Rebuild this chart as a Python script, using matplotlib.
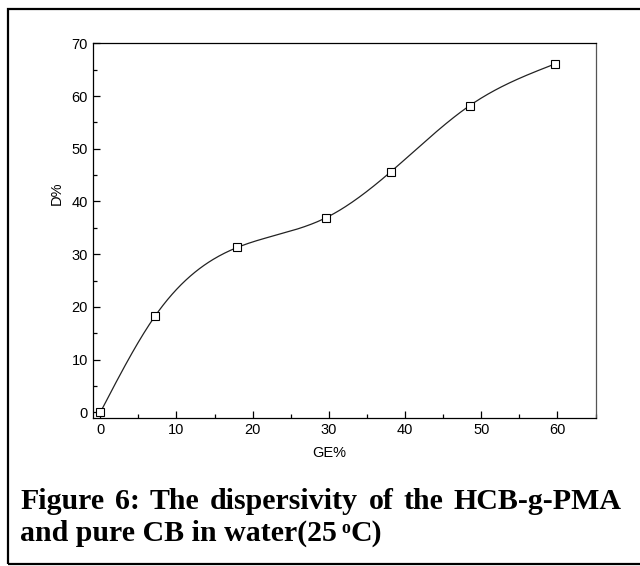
import matplotlib
matplotlib.use('Agg')
import matplotlib.pyplot as plt
import numpy as np
from matplotlib.patches import Rectangle
from matplotlib.ticker import MultipleLocator

# -------------------------- data --------------------------
ge = [0.0, 7.2, 18.0, 29.6, 38.1, 48.5, 59.7]
d = [0.0, 18.3, 31.3, 36.9, 45.6, 58.2, 66.1]

caption_line1 = ['Figure', '6:', 'The', 'dispersivity', 'of', 'the', 'HCB-g-PMA']
caption_line2 = ['and pure CB in water(25', 'o', 'C)']


def natural_spline(x, y, n=400):
    """Natural cubic spline through the points, for the smooth connecting line."""
    x = np.asarray(x, float)
    y = np.asarray(y, float)
    k = len(x)
    h = np.diff(x)
    A = np.zeros((k, k))
    b = np.zeros(k)
    A[0, 0] = A[-1, -1] = 1
    for i in range(1, k - 1):
        A[i, i - 1] = h[i - 1]
        A[i, i] = 2 * (h[i - 1] + h[i])
        A[i, i + 1] = h[i]
        b[i] = 6 * ((y[i + 1] - y[i]) / h[i] - (y[i] - y[i - 1]) / h[i - 1])
    m = np.linalg.solve(A, b)
    xs = np.linspace(x[0], x[-1], n)
    idx = np.clip(np.searchsorted(x, xs) - 1, 0, k - 2)
    t0 = xs - x[idx]
    t1 = x[idx + 1] - xs
    hh = h[idx]
    ys = (m[idx] * t1**3 / (6 * hh) + m[idx + 1] * t0**3 / (6 * hh)
          + (y[idx] / hh - m[idx] * hh / 6) * t1
          + (y[idx + 1] / hh - m[idx + 1] * hh / 6) * t0)
    return xs, ys


plt.rcParams['font.family'] = ['Liberation Sans', 'DejaVu Sans']

W, H = 640, 566
fig = plt.figure(figsize=(W / 100, H / 100), dpi=100)
ax = fig.add_axes([0.1448, 0.262, 0.9305 - 0.1448, 0.9235 - 0.262])

xs, ys = natural_spline(ge, d)
ax.plot(xs, ys, color='#222222', lw=0.9, zorder=2)
ax.plot(ge, d, ls='none', marker='s', ms=5.6, mfc='white', mec='black', mew=0.8, zorder=3)

ax.set_xlim(-1, 65)
ax.set_ylim(-1, 70)
ax.xaxis.set_major_locator(MultipleLocator(10))
ax.xaxis.set_minor_locator(MultipleLocator(5))
ax.yaxis.set_major_locator(MultipleLocator(10))
ax.yaxis.set_minor_locator(MultipleLocator(5))
ax.tick_params(which='major', direction='in', length=5, width=0.9, labelsize=10.5, pad=3.5)
ax.tick_params(which='minor', direction='in', length=2.6, width=0.9)
ax.tick_params(top=False, right=False)
for s in ax.spines.values():
    s.set_linewidth(0.9)
ax.spines['right'].set_color('#555555')

ax.set_xlabel('GE%', fontsize=10.5)
ax.xaxis.set_label_coords(0.47, -0.075)
ax.set_ylabel('D%', fontsize=10.5)
ax.yaxis.set_label_coords(-0.058, 0.60)

# -------------------------- caption --------------------------
cap = dict(family=['Liberation Serif', 'DejaVu Serif'], fontweight='bold', fontsize=21.5,
           va='baseline', ha='left')
renderer = fig.canvas.get_renderer()


def width_px(t):
    return t.get_window_extent(renderer).width


# line 1, justified between x=20 and x=622
y1 = 1 - 509 / H
words = [fig.text(0, y1, w, **cap) for w in caption_line1]
widths = [width_px(t) for t in words]
gap = (622 - 20 - sum(widths)) / (len(words) - 1)
x = 20
for t, w in zip(words, widths):
    t.set_x(x / W)
    x += w + gap

# line 2 with a small raised "o" for the degree sign
y2 = 1 - 541 / H
t = fig.text(20 / W, y2, caption_line2[0], **cap)
x = 20 + width_px(t) + 4
sup = dict(cap, fontsize=13)
t = fig.text(x / W, y2 + 8 / H, caption_line2[1], **sup)
x += width_px(t) + 1
fig.text(x / W, y2, caption_line2[2], **cap)

fig.patches.append(Rectangle((8 / W, 1 - 564 / H), 1.2, (564 - 9) / H,
                             transform=fig.transFigure, fill=False, lw=1.6,
                             edgecolor='black'))

fig.savefig('out.png', dpi=100)
